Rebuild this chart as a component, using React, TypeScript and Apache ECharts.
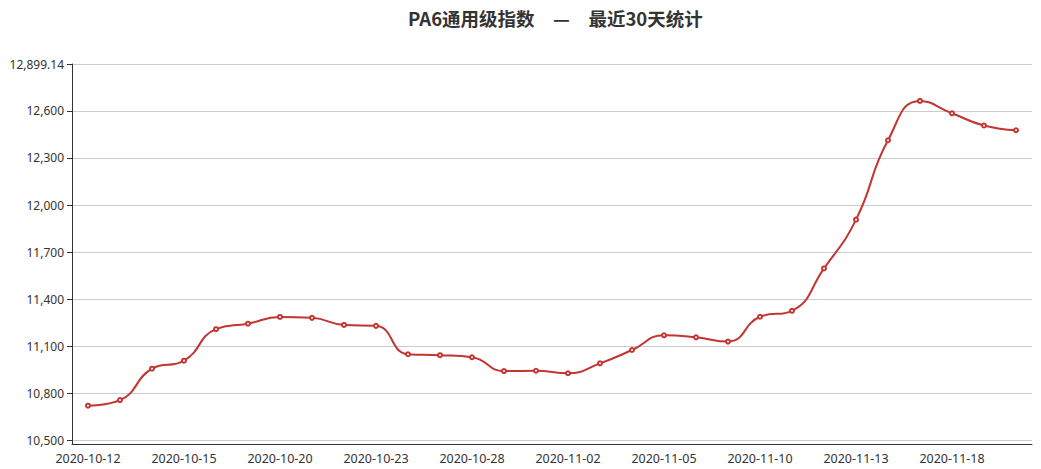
import React, { useEffect, useRef } from "react";
import * as echarts from "echarts";

const titleText = "PA6通用级指数　—　最近30天统计";

const dates = [
  "2020-10-12", "2020-10-13", "2020-10-14", "2020-10-15", "2020-10-16",
  "2020-10-19", "2020-10-20", "2020-10-21", "2020-10-22", "2020-10-23",
  "2020-10-26", "2020-10-27", "2020-10-28", "2020-10-29", "2020-10-30",
  "2020-11-02", "2020-11-03", "2020-11-04", "2020-11-05", "2020-11-06",
  "2020-11-09", "2020-11-10", "2020-11-11", "2020-11-12", "2020-11-13",
  "2020-11-16", "2020-11-17", "2020-11-18", "2020-11-19", "2020-11-20",
];

const values = [
  10721, 10757, 10957, 11008, 11209,
  11244, 11287, 11281, 11236, 11230,
  11049, 11043, 11030, 10942, 10944,
  10928, 10991, 11076, 11170, 11157,
  11130, 11288, 11326, 11596, 11907,
  12413, 12664, 12585, 12507, 12477,
];

const yMin = 10477;
const yMax = 12899.14;
const yStep = 300;

const TITLE_FONT = "'Microsoft YaHei', 'Noto Sans CJK SC', sans-serif";
const LABEL_FONT = "'Noto Sans', sans-serif";

export default function App() {
  const ref = useRef<HTMLDivElement>(null);

  useEffect(() => {
    if (!ref.current) return;
    const chart = echarts.init(ref.current, undefined, { renderer: "svg" });
    chart.setOption({
      animation: false,
      textStyle: { fontFamily: LABEL_FONT },
      title: {
        text: titleText,
        left: 403,
        top: 4,
        textStyle: {
          fontSize: 18.5,
          fontWeight: "bold",
          color: "#333",
          fontFamily: TITLE_FONT,
        },
      },
      grid: { left: 72, right: 9, top: 64, bottom: 25, containLabel: false },
      xAxis: {
        type: "category",
        data: dates,
        boundaryGap: true,
        axisLine: { lineStyle: { color: "#333" } },
        axisTick: {
          interval: (i: number) => i % 3 === 2,
        },
        axisLabel: {
          interval: 2,
          color: "#333",
          fontSize: 12.5,
          fontFamily: LABEL_FONT,
        },
      },
      yAxis: {
        type: "value",
        min: yMin,
        max: yMax,
        minInterval: yStep,
        maxInterval: yStep,
        splitNumber: 8,
        axisLine: { show: true, lineStyle: { color: "#333" } },
        axisTick: { show: true },
        splitLine: { lineStyle: { color: "#ccc" } },
        axisLabel: {
          showMinLabel: false,
          color: "#333",
          fontSize: 12,
          fontFamily: LABEL_FONT,
        },
      },
      series: [
        {
          type: "line",
          data: values,
          smooth: true,
          symbol: "emptyCircle",
          symbolSize: 4,
          itemStyle: { color: "#c23531", borderWidth: 1 },
          lineStyle: { color: "#c23531", width: 2 },
        },
      ],
    });
    return () => chart.dispose();
  }, []);

  return (
    <div
      ref={ref}
      style={{ position: "absolute", left: 0, top: 0, width: 1041, height: 469 }}
    />
  );
}
